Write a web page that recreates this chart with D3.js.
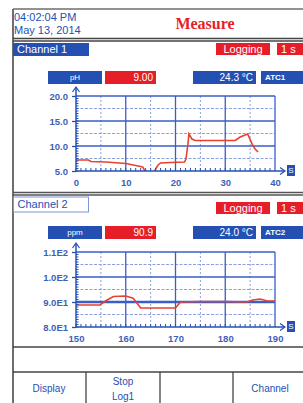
<!DOCTYPE html>
<html>
<head>
<meta charset="utf-8">
<script src="https://cdn.jsdelivr.net/npm/d3@7"></script>
<style>
  html, body { margin: 0; padding: 0; background: #fff; }
  svg { display: block; font-family: "Liberation Sans", Arial, sans-serif; }
</style>
</head>
<body>
<div id="chart"></div>
<script>
// channel 1: pH over time (s)
const ch1Time = [0, 2.5, 3, 6, 10, 11, 12.5, 13.4, 14, 14.8, 15.6, 16, 16.5, 17, 19, 21.8, 22.1, 22.5, 22.7, 23.3, 24, 28, 32, 33, 34, 34.5, 35.5, 36, 36.6];
const ch1Values = [7.2, 7.2, 6.9, 6.8, 6.5, 6.3, 6.0, 5.8, 4.8, 4.0, 4.6, 5.4, 6.2, 6.6, 6.7, 6.8, 7.4, 10.4, 12.4, 11.4, 11.1, 11.1, 11.1, 11.8, 12.2, 12.4, 10.2, 9.4, 8.8];
const ch1XTicks = [0, 10, 20, 30, 40];
const ch1YTicks = [5, 10, 15, 20];
const ch1YLabels = ["5.0", "10.0", "15.0", "20.0"];

// channel 2: ppm over time (s)
const ch2Time = [150, 154.8, 156, 157.5, 160, 161.5, 163, 170, 171, 175, 180, 184.4, 185.5, 187, 188.5, 190];
const ch2Values = [88.8, 88.8, 90.5, 92.2, 92.4, 91.5, 87.6, 87.6, 90.0, 90.2, 90.2, 90.0, 90.8, 91.2, 90.4, 90.4];
const ch2XTicks = [150, 160, 170, 180, 190];
const ch2YTicks = [80, 90, 100, 110];
const ch2YLabels = ["8.0E1", "9.0E1", "1.0E2", "1.1E2"];

const blue = "#2450b4";
const red = "#e61e28";
const gridBlue = "#3a5ec8";
const frameGray = "#6e6e6e";

const svg = d3.select("#chart")
    .append("svg")
    .attr("width", 303)
    .attr("height", 403);

svg.append("rect").attr("width", 303).attr("height", 403).attr("fill", "#fff");

// outer frame
svg.append("line").attr("x1", 13).attr("x2", 13).attr("y1", 9).attr("y2", 403)
    .attr("stroke", frameGray).attr("stroke-width", 2);
svg.append("line").attr("x1", 13).attr("x2", 303).attr("y1", 9).attr("y2", 9)
    .attr("stroke", frameGray).attr("stroke-width", 1.5);

// header
svg.append("text").attr("x", 14).attr("y", 21).attr("fill", blue)
    .attr("font-size", 11).text("04:02:04 PM");
svg.append("text").attr("x", 14).attr("y", 34).attr("fill", blue)
    .attr("font-size", 11).text("May 13, 2014");
svg.append("text").attr("x", 205).attr("y", 29).attr("fill", red)
    .attr("text-anchor", "middle").attr("font-size", 16).attr("font-weight", "bold")
    .attr("font-family", "'Liberation Serif', serif").text("Measure");
[38.5, 41].forEach(y => {
    svg.append("line").attr("x1", 13).attr("x2", 303).attr("y1", y).attr("y2", y)
        .attr("stroke", "#444").attr("stroke-width", 1.3);
});

function tag(x, y, w, h, fill, label, opts = {}) {
    svg.append("rect").attr("x", x).attr("y", y).attr("width", w).attr("height", h)
        .attr("fill", fill).attr("stroke", opts.stroke || "none");
    const anchor = opts.anchor || "middle";
    const tx = anchor === "end" ? x + w - 3 : anchor === "start" ? x + 4 : x + w / 2;
    svg.append("text").attr("x", tx).attr("y", y + h / 2 + (opts.size || 9) * 0.36)
        .attr("text-anchor", anchor).attr("fill", opts.color || "#fff")
        .attr("font-size", opts.size || 9).attr("font-weight", opts.weight || "normal")
        .text(label);
}

function channelHeader(y, name, filled) {
    if (filled) {
        tag(13, y, 76, 13, blue, name, {anchor: "start", size: 11});
    } else {
        tag(13.5, y, 75, 15, "#fff", name, {anchor: "start", size: 11, color: blue, stroke: "#7f95d8"});
    }
    tag(216, y + (filled ? 0 : 5), 54, 12, red, "Logging", {size: 11});
    tag(277, y + (filled ? 0 : 5), 30, 12, red, "1 s", {anchor: "start", size: 11});
}

function drawPlot(cfg) {
    const x = d3.scaleLinear().domain(cfg.xDomain).range([76, 275]);
    const y = d3.scaleLinear().domain(cfg.yDomain).range([cfg.bottom, cfg.top]);
    const g = svg.append("g");

    // value boxes
    tag(48, cfg.boxY, 54, 13, blue, cfg.unit, {size: 8});
    tag(105, cfg.boxY, 51, 13, red, cfg.value, {anchor: "end", size: 10});
    tag(193, cfg.boxY, 63, 13, blue, cfg.temp, {anchor: "end", size: 10});
    tag(261, cfg.boxY, 45, 13, blue, cfg.atc, {anchor: "start", size: 8, weight: "bold"});

    const [x0, x1] = cfg.xDomain;
    const [y0, y1] = cfg.yDomain;
    const xStep = (x1 - x0) / 8;
    const yStep = (y1 - y0) / 6;

    // dashed grid
    d3.range(1, 8, 2).forEach(i => {
        g.append("line").attr("x1", x(x0 + i * xStep)).attr("x2", x(x0 + i * xStep))
            .attr("y1", y(y1)).attr("y2", y(y0))
            .attr("stroke", "#8da0dc").attr("stroke-width", 1).attr("stroke-dasharray", "2,2");
    });
    d3.range(1, 6, 2).forEach(i => {
        g.append("line").attr("x1", x(x0)).attr("x2", x(x1))
            .attr("y1", y(y0 + i * yStep)).attr("y2", y(y0 + i * yStep))
            .attr("stroke", "#8da0dc").attr("stroke-width", 1).attr("stroke-dasharray", "3,1.5");
    });
    // solid grid
    d3.range(2, 9, 2).forEach(i => {
        g.append("line").attr("x1", x(x0 + i * xStep)).attr("x2", x(x0 + i * xStep))
            .attr("y1", y(y1)).attr("y2", y(y0))
            .attr("stroke", gridBlue).attr("stroke-width", 1.3);
    });
    d3.range(2, 7, 2).forEach(i => {
        g.append("line").attr("x1", x(x0)).attr("x2", x(x1))
            .attr("y1", y(y0 + i * yStep)).attr("y2", y(y0 + i * yStep))
            .attr("stroke", gridBlue).attr("stroke-width", cfg.thickAt === y0 + i * yStep ? 2.4 : 1.3);
    });

    // data line
    const clipId = "clip" + cfg.top;
    svg.append("clipPath").attr("id", clipId).append("rect")
        .attr("x", x(x0)).attr("y", y(y1)).attr("width", x(x1) - x(x0)).attr("height", y(y0) - y(y1));
    const line = d3.line().x(d => x(d[0])).y(d => y(d[1]));
    g.append("path").datum(d3.zip(cfg.t, cfg.v))
        .attr("clip-path", `url(#${clipId})`)
        .attr("d", line).attr("fill", "none").attr("stroke", "#e8402e").attr("stroke-width", 1.6);

    // y axis with arrow
    const yAxis = d3.axisLeft(y).tickValues(cfg.yTicks).tickSize(4).tickPadding(4)
        .tickFormat((d, i) => cfg.yLabels[i]);
    const ya = g.append("g").attr("transform", "translate(76,0)").call(yAxis);
    ya.select(".domain").remove();
    ya.selectAll(".tick line").attr("stroke", blue).attr("stroke-width", 1.3);
    ya.selectAll(".tick text").attr("fill", "#3d5fb8").attr("font-size", 9.5).attr("font-weight", "bold")
        .attr("font-family", "'Liberation Sans', Arial, sans-serif");
    d3.range(y0, y1, yStep / 5).forEach(v => {
        g.append("line").attr("x1", 76).attr("x2", 78.5).attr("y1", y(v)).attr("y2", y(v))
            .attr("stroke", blue).attr("stroke-width", 1);
    });
    g.append("line").attr("x1", 76).attr("x2", 76).attr("y1", y(y0)).attr("y2", cfg.top - 8)
        .attr("stroke", blue).attr("stroke-width", 1.5);
    g.append("path").attr("d", `M72.5,${cfg.top - 4}L76,${cfg.top - 9}L79.5,${cfg.top - 4}`)
        .attr("fill", "none").attr("stroke", blue).attr("stroke-width", 1.2);

    // x axis with arrow
    const xAxis = d3.axisBottom(x).tickValues(cfg.xTicks).tickSize(0).tickPadding(8);
    const xa = g.append("g").attr("transform", `translate(0,${cfg.bottom})`).call(xAxis);
    xa.select(".domain").remove();
    xa.selectAll(".tick text").attr("fill", "#3d5fb8").attr("font-size", 9.5).attr("font-weight", "bold")
        .attr("font-family", "'Liberation Sans', Arial, sans-serif");
    d3.range(x0, x1, xStep / 5).forEach(v => {
        g.append("line").attr("x1", x(v)).attr("x2", x(v)).attr("y1", cfg.bottom - 3).attr("y2", cfg.bottom)
            .attr("stroke", blue).attr("stroke-width", 1);
    });
    g.append("line").attr("x1", 76).attr("x2", 284).attr("y1", cfg.bottom).attr("y2", cfg.bottom)
        .attr("stroke", blue).attr("stroke-width", 1.5);
    g.append("path").attr("d", `M280,${cfg.bottom - 3.5}L285,${cfg.bottom}L280,${cfg.bottom + 3.5}`)
        .attr("fill", "none").attr("stroke", blue).attr("stroke-width", 1.2);
    tag(287, cfg.bottom - 6, 8, 11, blue, "S", {size: 8});
}

// channel 1
channelHeader(43, "Channel 1", true);
drawPlot({
    xDomain: [0, 40], yDomain: [5, 20], top: 96, bottom: 171, boxY: 71,
    unit: "pH", value: "9.00", temp: "24.3 °C", atc: "ATC1",
    t: ch1Time, v: ch1Values, xTicks: ch1XTicks, yTicks: ch1YTicks, yLabels: ch1YLabels
});

// separator between channels
[192.5, 195].forEach(yy => {
    svg.append("line").attr("x1", 13).attr("x2", 303).attr("y1", yy).attr("y2", yy)
        .attr("stroke", "#555").attr("stroke-width", 1.3);
});

// channel 2
channelHeader(197, "Channel 2", false);
drawPlot({
    xDomain: [150, 190], yDomain: [80, 110], top: 252, bottom: 327, boxY: 226,
    unit: "ppm", value: "90.9", temp: "24.0 °C", atc: "ATC2", thickAt: 90,
    t: ch2Time, v: ch2Values, xTicks: ch2XTicks, yTicks: ch2YTicks, yLabels: ch2YLabels
});

// bottom button bar
[347, 372].forEach(yy => {
    svg.append("line").attr("x1", 13).attr("x2", 303).attr("y1", yy).attr("y2", yy)
        .attr("stroke", "#444").attr("stroke-width", 1.5);
});
[86, 160, 233].forEach(xx => {
    svg.append("line").attr("x1", xx).attr("x2", xx).attr("y1", 372).attr("y2", 403)
        .attr("stroke", "#444").attr("stroke-width", 1.3);
});
const buttons = [
    {cx: 49, lines: ["Display"]},
    {cx: 123, lines: ["Stop", "Log1"]},
    {cx: 270, lines: ["Channel"]}
];
buttons.forEach(b => {
    const startY = b.lines.length === 1 ? 392 : 385;
    b.lines.forEach((l, i) => {
        svg.append("text").attr("x", b.cx).attr("y", startY + i * 15)
            .attr("text-anchor", "middle").attr("fill", blue).attr("font-size", 10).text(l);
    });
});
</script>
</body>
</html>
